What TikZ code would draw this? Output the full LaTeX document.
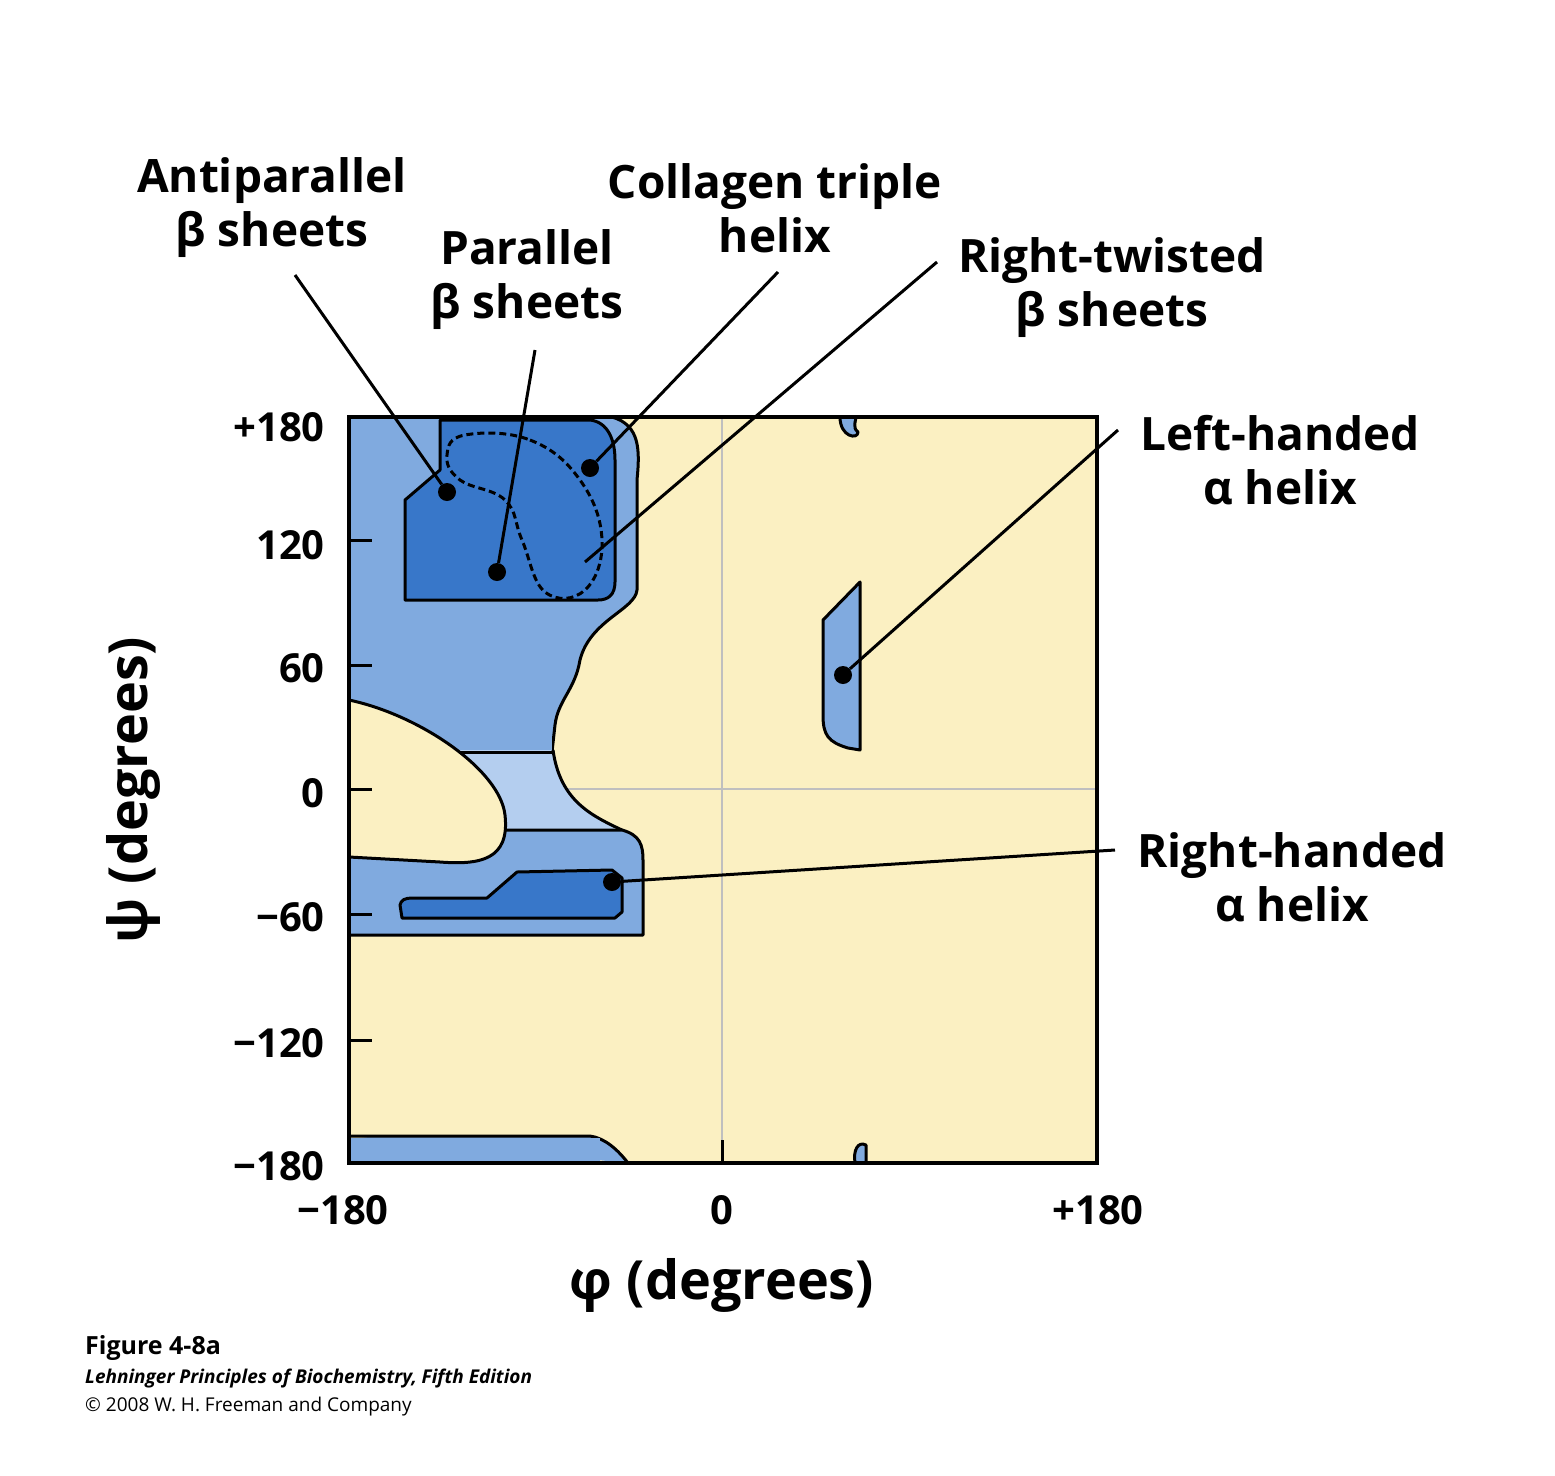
\documentclass[tikz,border=0pt]{standalone}
\usepackage{fontspec}
\setmainfont{Open Sans}
\begin{document}
\begin{tikzpicture}[x=1pt,y=-1pt,
  lab/.style={font=\fontsize{46}{54}\selectfont\bfseries,align=center,inner sep=0pt},
  tick/.style={font=\fontsize{40}{48}\selectfont\bfseries,inner sep=0pt},
  ol/.style={draw=black,line width=3pt,line join=round},
  dot/.style={circle,fill=black,inner sep=0pt,minimum size=18pt},
  lead/.style={line width=3pt}]
\definecolor{yel}{HTML}{FBF0C2}
\definecolor{mb}{HTML}{80AADF}
\definecolor{db}{HTML}{3877C9}
\definecolor{lb}{HTML}{B4CEEF}
\useasboundingbox (0,0) rectangle (1555,1475);
\fill[white] (0,0) rectangle (1555,1475);
\fill[yel] (349,417) rectangle (1097,1163);
\draw[gray!50,line width=1.5pt] (722,417) -- (722,1163) (349,789) -- (1097,789);
% medium blue upper
\path[fill=mb,ol] (349,752) -- (349,417) -- (612,417) .. controls (640,425) and (640,450) .. (637,480) -- (637,590) .. controls (635,610) and (590,620) .. (580,660) .. controls (575,690) and (558,700) .. (555,725) -- (552,752);
\fill[mb] (349,417) rectangle (552,752);
% light blue
\path[fill=lb] (430,750) -- (553,750) .. controls (560,800) and (590,815) .. (622,830) -- (500,830) -- cycle;
\draw[ol] (553,750) .. controls (560,800) and (590,815) .. (622,830);
\draw[ol] (448,752) -- (553,752);
% medium blue lower
\path[fill=mb] (349,830) -- (622,830) .. controls (640,835) and (643,845) .. (643,860) -- (643,935) -- (349,935) -- cycle;
\draw[ol] (505,830) -- (622,830) .. controls (640,835) and (643,845) .. (643,860) -- (643,935) -- (349,935);
% yellow lobe
\path[fill=yel,ol] (349,700) .. controls (420,715) and (500,770) .. (505,815) .. controls (510,860) and (480,865) .. (440,862) -- (349,857);
% dark blue top
\path[fill=db,ol] (405,600) -- (405,500) -- (440,470) -- (440,420) -- (590,420) .. controls (608,422) and (615,440) .. (615,460) -- (615,582) .. controls (615,595) and (608,600) .. (598,600) -- cycle;
\draw[line width=3pt,dash pattern=on 7pt off 4pt] plot[smooth cycle,tension=0.7] coordinates {(465,435) (530,440) (580,480) (602,540) (585,590) (545,592) (522,540) (505,500) (460,480) (447,455)};
% dark blue lower
\path[fill=db,ol] (402,918) -- (400,905) .. controls (401,900) and (405,898) .. (412,898) -- (487,898) -- (517,872) -- (612,870) -- (622,878) -- (622,912) -- (615,918) -- cycle;
% left-handed region
\path[fill=mb,ol] (823,620) -- (860,582) -- (860,750) -- (848,748) .. controls (828,742) and (823,735) .. (823,715) -- cycle;
% small bumps
\path[fill=mb,ol] (840,417) .. controls (840,437) and (858,440) .. (858,432) .. controls (852,428) and (856,420) .. (856,417);
\path[fill=mb,ol] (855,1163) .. controls (853,1150) and (858,1141) .. (866,1145) -- (866,1163);
% bottom strip
\path[fill=mb,ol] (349,1136) -- (590,1136) .. controls (605,1138) and (618,1150) .. (628,1163);
\fill[mb] (349,1138) rectangle (600,1162);
% frame
\draw[line width=3.5pt] (349,417) rectangle (1097,1163);
\foreach \y in {417,540,665,789,914,1040,1163} \draw[line width=3pt] (349,\y) -- (372,\y);
\draw[line width=3pt] (722,1163) -- (722,1140);
% ticks labels
\node[tick,anchor=east] (t1) at (325,427) {+180};
\node[tick,anchor=east] (t2) at (325,545) {120};
\node[tick,anchor=east] (t3) at (325,668) {60};
\node[tick,anchor=east] (t4) at (325,793) {0};
\node[tick,anchor=east] (t5) at (325,917) {−60};
\node[tick,anchor=east] (t6) at (325,1043) {−120};
\node[tick,anchor=east] (t7) at (325,1166) {−180};
\node[tick] (b1) at (343,1210) {−180};
\node[tick] (b2) at (722,1210) {0};
\node[tick] (b3) at (1098,1210) {+180};
\node[font=\fontsize{54}{60}\selectfont\bfseries] (xl) at (722,1285) {φ (degrees)};
\node[font=\fontsize{54}{60}\selectfont\bfseries,rotate=90] (yl) at (133,790) {ψ (degrees)};
% labels
\node[lab] (ap) at (272,208) {Antiparallel\\β sheets};
\node[lab] (pp) at (527,280) {Parallel\\β sheets};
\node[lab] (co) at (775,208) {Collagen triple\\helix};
\node[lab] (rt) at (1112,288) {Right-twisted\\β sheets};
\node[lab] (lh) at (1280,460) {Left-handed\\α helix};
\node[lab] (rh) at (1292,877) {Right-handed\\α helix};
% dots & leaders
\node[dot] (d1) at (447,492) {};
\node[dot] (d2) at (497,572) {};
\node[dot] (d3) at (590,468) {};
\coordinate (d4) at (585,562);
\node[dot] (d5) at (843,675) {};
\node[dot] (d6) at (612,882) {};
\coordinate (e1) at (295,275); \coordinate (e2) at (535,350);
\coordinate (e3) at (778,272); \coordinate (e4) at (937,262);
\coordinate (e5) at (1118,430); \coordinate (e6) at (1115,850);
\draw[lead] (d1) -- (e1); \draw[lead] (d2) -- (e2); \draw[lead] (d3) -- (e3);
\draw[lead] (d4) -- (e4); \draw[lead] (d5) -- (e5); \draw[lead] (d6) -- (e6);
% caption
\node[anchor=west,inner sep=0pt,font=\fontsize{25}{30}\selectfont\bfseries] (c1) at (85,1348) {Figure 4-8a};
\node[anchor=west,inner sep=0pt,font=\fontsize{19}{24}\selectfont\bfseries\itshape] (c2) at (85,1378) {Lehninger Principles of Biochemistry, Fifth Edition};
\node[anchor=west,inner sep=0pt,font=\fontsize{19}{24}\selectfont] (c3) at (85,1407) {© 2008 W. H. Freeman and Company};
\end{tikzpicture}
\end{document}
